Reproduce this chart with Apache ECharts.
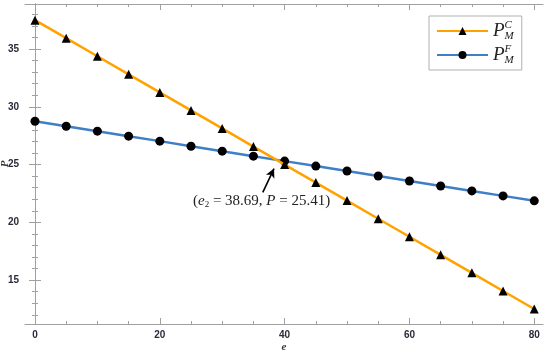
<!DOCTYPE html>
<html>
<head>
<meta charset="utf-8">
<script src="https://cdn.jsdelivr.net/npm/echarts@6/dist/echarts.min.js"></script>
<style>html,body{margin:0;padding:0;background:#fff}#c{width:550px;height:355px}</style>
</head>
<body>
<div id="c"></div>
<script>
const eValues = [0,5,10,15,20,25,30,35,40,45,50,55,60,65,70,75,80];
const pmC = [37.5,35.94,34.38,32.81,31.25,29.69,28.13,26.56,25.0,23.44,21.88,20.31,18.75,17.19,15.63,14.06,12.5];
const pmF = [28.75,28.32,27.89,27.46,27.03,26.59,26.16,25.73,25.30,24.87,24.44,24.01,23.58,23.15,22.72,22.29,21.86];
const xMajor = [0,20,40,60,80];
const xMinor = [5,10,15,25,30,35,45,50,55,65,70,75];
const yMajor = [15,20,25,30,35];
const yMinor = [12,13,14,16,17,18,19,21,22,23,24,26,27,28,29,31,32,33,34,36,37,38];
const crossE = 38.69, crossP = 25.41;
const arrowFrom = [36.5, 22.6], arrowTo = [38.3, 24.65];

const axisColor = '#a0a0a0';
const serif = '"Liberation Serif", "DejaVu Serif", serif';
const labelStyle = {color:'#2a2a3a', fontWeight:'bold', fontSize:10, fontFamily:'"Liberation Sans", Arial, sans-serif'};

function xAx(pos, vals, len, showLine, showLabel, extra) {
  return Object.assign({
    type:'value', min:-1.6, max:81.4, position:pos,
    axisLine:{show:showLine, lineStyle:{color:axisColor, width:1}},
    axisTick:{show:true, inside:true, length:len, customValues:vals, lineStyle:{color:axisColor}},
    axisLabel:{show:showLabel, customValues:vals, margin:6, ...labelStyle},
    splitLine:{show:false}
  }, extra||{});
}
function yAx(pos, vals, len, showLine, showLabel, extra) {
  return Object.assign({
    type:'value', min:11.2, max:38.9, position:pos,
    axisLine:{show:showLine, lineStyle:{color:axisColor, width:1}},
    axisTick:{show:true, inside:true, length:len, customValues:vals, lineStyle:{color:axisColor}},
    axisLabel:{show:showLabel, customValues:vals, margin:6, ...labelStyle},
    splitLine:{show:false}
  }, extra||{});
}

const chart = echarts.init(document.getElementById('c'), null, {renderer:'canvas'});
const legendRich = {
  p:{fontFamily:serif, fontStyle:'italic', fontSize:19, color:'#222', verticalAlign:'middle'},
  sup:{fontFamily:serif, fontStyle:'italic', fontSize:11, color:'#222', width:0, padding:[0,0,11,0]},
  sub:{fontFamily:serif, fontStyle:'italic', fontSize:11, color:'#222', padding:[11,0,0,0]}
};
chart.setOption({
  animation:false,
  backgroundColor:'#fff',
  grid:{left:25, right:7, top:4, bottom:31, containLabel:false, outerBoundsMode:'none'},
  xAxis:[
    xAx('bottom', xMajor, 6, true, true, {name:'e', nameLocation:'middle', nameGap:18, nameMoveOverlap:false,
      nameTextStyle:{fontFamily:serif, fontStyle:'italic', fontWeight:'bold', fontSize:11, color:'#333'}}),
    xAx('bottom', xMinor, 3, false, false),
    xAx('top', xMajor, 6, true, false),
    xAx('top', xMinor, 3, false, false)
  ],
  yAxis:[
    yAx('left', yMajor, 6, true, true, {name:'P', nameLocation:'middle', nameGap:14, nameMoveOverlap:false,
      nameTextStyle:{fontFamily:serif, fontStyle:'italic', fontWeight:'bold', fontSize:11, color:'#333'}}),
    yAx('left', yMinor, 3, false, false),
    yAx('right', yMajor, 6, true, false),
    yAx('right', yMinor, 3, false, false)
  ],
  legend:{
    orient:'vertical', left:429, top:16, width:80,
    itemWidth:51, itemHeight:10, itemGap:2,
    padding:[4,8,4,7],
    borderColor:'#b0b0b0', borderWidth:1, backgroundColor:'#fff',
    data:['C','F'],
    formatter: n => '{p|P}{sup|' + n + '}{sub|M}',
    textStyle:{rich:legendRich, lineHeight:22}
  },
  series:[
    {name:'C', type:'line', data:eValues.map((e,i)=>[e,pmC[i]]),
      symbol:'triangle', symbolSize:9, itemStyle:{color:'#000'},
      lineStyle:{color:'#ffa200', width:2.5}, z:3},
    {name:'F', type:'line', data:eValues.map((e,i)=>[e,pmF[i]]),
      symbol:'circle', symbolSize:9, itemStyle:{color:'#000'},
      lineStyle:{color:'#3f7fc6', width:2.5}, z:2,
      markLine:{silent:true, symbol:['none','arrow'], symbolSize:[7,9],
        label:{show:false}, lineStyle:{color:'#000', width:1.6, type:'solid'},
        data:[[{coord:arrowFrom},{coord:arrowTo}]]}}
  ],
  graphic:[
    {type:'text', left:193, top:194, z:10,
      style:{text:'({i|e}{s|2} = ' + crossE.toFixed(2) + ', {i|P} = ' + crossP.toFixed(2) + ')',
        font:'15px ' + serif, fill:'#222',
        rich:{i:{fontFamily:serif, fontStyle:'italic', fontSize:15, fill:'#222'},
              s:{fontFamily:serif, fontSize:9, padding:[7,0,0,0], fill:'#222'}}}}
  ]
});
</script>
</body>
</html>
